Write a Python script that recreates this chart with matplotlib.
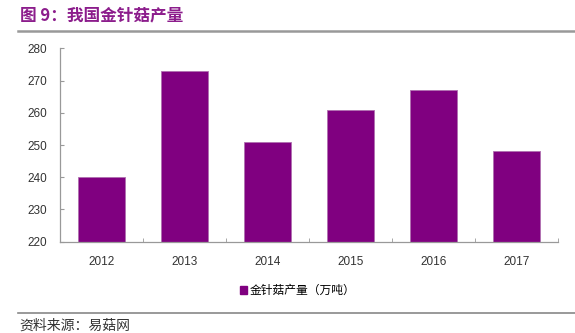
import numpy as np
import matplotlib
matplotlib.use('Agg')
import matplotlib.pyplot as plt
from matplotlib.lines import Line2D
from matplotlib.patches import Patch

plt.rcParams['font.family'] = ['Liberation Sans', 'Noto Sans CJK SC', 'DejaVu Sans']

years = ['2012', '2013', '2014', '2015', '2016', '2017']
output = [240, 273, 251, 261, 267, 248]
yticks = [220, 230, 240, 250, 260, 270, 280]

bar_color = '#800080'
grey = '#999999'
cjk = ['Noto Sans CJK SC', 'DejaVu Sans']

W, H = 575, 333
fig = plt.figure(figsize=(W / 100, H / 100), dpi=100)
ax = fig.add_axes([60 / W, 1 - 241.7 / H, (558 - 60) / W, (241.7 - 48.3) / H])

x = np.arange(len(years))
ax.bar(x, output, width=0.57, bottom=0, color=bar_color, edgecolor='#b070b0', linewidth=0.6)
ax.set_ylim(220, 280)
ax.set_xlim(-0.5, len(years) - 0.5)
ax.set_yticks(yticks)
ax.set_xticks(x)
ax.set_xticklabels(years)
ax.set_xticks(np.arange(len(years) + 1) - 0.5, minor=True)

for s in ['top', 'right']:
    ax.spines[s].set_visible(False)
for s in ['left', 'bottom']:
    ax.spines[s].set_color(grey)
    ax.spines[s].set_linewidth(0.9)

ax.tick_params(axis='y', direction='in', length=3, color=grey, labelsize=8.5, labelcolor='#333333', pad=9)
ax.tick_params(axis='x', which='major', length=0, labelsize=8.5, labelcolor='#333333', pad=10)
ax.tick_params(axis='x', which='minor', direction='in', length=3, color=grey)

# legend below the axes
handle = Patch(facecolor=bar_color, edgecolor=bar_color)
leg = fig.legend([handle], ['金针菇产量（万吨）'], loc='center', bbox_to_anchor=(298 / W, 1 - 290.5 / H),
                 frameon=False, handlelength=0.6, handleheight=0.6, handletextpad=0.2,
                 prop={'family': cjk, 'size': 8.5})

# title and rules
fig.text(20 / W, 1 - 15 / H, '图 9：我国金针菇产量', family=cjk, fontsize=12, fontweight='bold',
         color='#8c1d8c', ha='left', va='center')
fig.add_artist(Line2D([18 / W, 1], [1 - 31 / H, 1 - 31 / H], color=grey, linewidth=1.8))
fig.add_artist(Line2D([18 / W, 1], [1 - 312.5 / H, 1 - 312.5 / H], color='#888888', linewidth=1.2))
fig.text(19 / W, 1 - 326 / H, '资料来源：易菇网', family=cjk, fontsize=10, color='#333333',
         ha='left', va='center')

fig.savefig('out.png', dpi=100)
